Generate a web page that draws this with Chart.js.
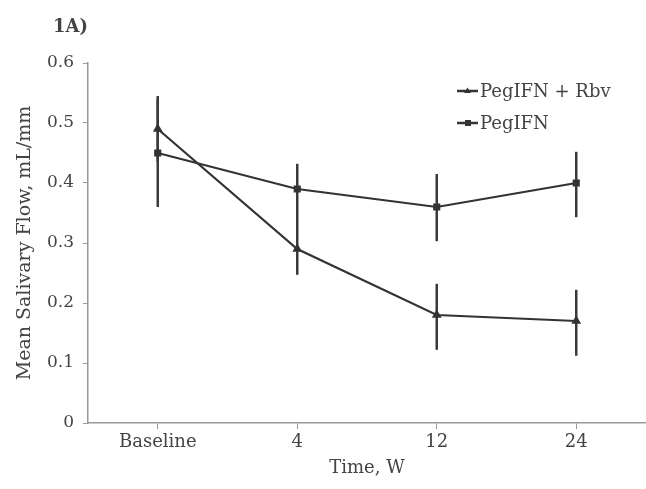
<!DOCTYPE html>
<html>
<head>
<meta charset="utf-8">
<script src="https://cdn.jsdelivr.net/npm/chart.js@4"></script>
<style>
  html, body { margin: 0; padding: 0; background: #fff; }
  #wrap { width: 646px; height: 489px; position: relative; }
</style>
</head>
<body>
<div id="wrap"><canvas id="flowChart"></canvas></div>
<script>
const weeks = ['Baseline', '4', '12', '24'];
const yTicks = [0, 0.1, 0.2, 0.3, 0.4, 0.5, 0.6];

// PegIFN + Rbv (triangles)
const rbvMean = [0.49, 0.29, 0.18, 0.17];
const rbvHigh = [0.545, 0.345, 0.232, 0.222];
const rbvLow = [0.435, 0.247, 0.122, 0.112];

// PegIFN (squares)
const pegMean = [0.45, 0.39, 0.36, 0.40];
const pegHigh = [0.54, 0.432, 0.415, 0.452];
const pegLow = [0.36, 0.345, 0.303, 0.343];

const FONT = 'DejaVu Serif';
const INK = '#333';
const TXT = '#444';

const errorBars = {
  id: 'errorBars',
  beforeDatasetsDraw(chart) {
    const { ctx, scales: { x, y } } = chart;
    const sets = [[rbvLow, rbvHigh], [pegLow, pegHigh]];
    ctx.save();
    ctx.strokeStyle = '#3a3a3a';
    ctx.lineWidth = 2.5;
    sets.forEach(([lo, hi]) => {
      weeks.forEach((w, i) => {
        const px = x.getPixelForValue(i);
        ctx.beginPath();
        ctx.moveTo(px, y.getPixelForValue(lo[i]));
        ctx.lineTo(px, y.getPixelForValue(hi[i]));
        ctx.stroke();
      });
    });
    ctx.restore();
  }
};

const extras = {
  id: 'extras',
  afterDraw(chart) {
    const ctx = chart.ctx;
    ctx.save();
    ctx.fillStyle = TXT;
    ctx.font = 'bold 18px "' + FONT + '"';
    ctx.textBaseline = 'middle';
    ctx.fillText('1A)', 53, 27);

    // legend
    ctx.font = '18px "' + FONT + '"';
    chart.data.datasets.forEach((ds, i) => {
      const ly = 91 + i * 32;
      ctx.strokeStyle = INK;
      ctx.lineWidth = 2.5;
      ctx.beginPath();
      ctx.moveTo(457, ly);
      ctx.lineTo(478, ly);
      ctx.stroke();
      ctx.fillStyle = INK;
      ctx.beginPath();
      if (ds.pointStyle === 'triangle') {
        ctx.moveTo(467.5, ly - 3.5);
        ctx.lineTo(471, ly + 2);
        ctx.lineTo(464, ly + 2);
      } else {
        ctx.rect(465, ly - 3, 6, 6);
      }
      ctx.fill();
      ctx.fillStyle = TXT;
      ctx.fillText(ds.label, 480, ly + 1);
    });
    ctx.restore();
  }
};

new Chart(document.getElementById('flowChart'), {
  type: 'line',
  data: {
    labels: weeks,
    datasets: [
      {
        label: 'PegIFN + Rbv',
        data: rbvMean,
        borderColor: INK,
        backgroundColor: INK,
        borderWidth: 2.2,
        pointStyle: 'triangle',
        pointRadius: 3.5,
        tension: 0
      },
      {
        label: 'PegIFN',
        data: pegMean,
        borderColor: INK,
        backgroundColor: INK,
        borderWidth: 2.2,
        pointStyle: 'rect',
        pointRadius: 3.5,
        tension: 0
      }
    ]
  },
  options: {
    responsive: true,
    maintainAspectRatio: false,
    animation: false,
    layout: { autoPadding: false, padding: { top: 63, right: 0, bottom: 0, left: 0 } },
    plugins: {
      legend: { display: false },
      tooltip: { enabled: false }
    },
    scales: {
      x: {
        type: 'category',
        offset: true,
        grid: { drawOnChartArea: false, drawTicks: true, tickLength: 6, color: '#999', offset: false },
        border: { color: '#999', width: 1.5 },
        ticks: { color: TXT, font: { family: FONT, size: 18 }, padding: 3, maxRotation: 0 },
        title: { display: true, text: 'Time, W', color: TXT, font: { family: FONT, size: 18 }, padding: { top: 4, bottom: 10 } },
        afterFit(scale) { scale.height = 66; }
      },
      y: {
        min: 0,
        max: 0.6,
        afterBuildTicks(scale) { scale.ticks = yTicks.map(v => ({ value: v })); },
        grid: { drawOnChartArea: false, drawTicks: true, tickLength: 5, color: '#999' },
        border: { color: '#999', width: 1.5 },
        ticks: { color: TXT, font: { family: FONT, size: 17 }, padding: 9 },
        title: { display: true, text: 'Mean Salivary Flow, mL/mm', color: TXT, font: { family: FONT, size: 19 }, padding: { top: 14, bottom: 4 } },
        afterFit(scale) { scale.width = 88; }
      }
    }
  },
  plugins: [errorBars, extras]
});
</script>
</body>
</html>
